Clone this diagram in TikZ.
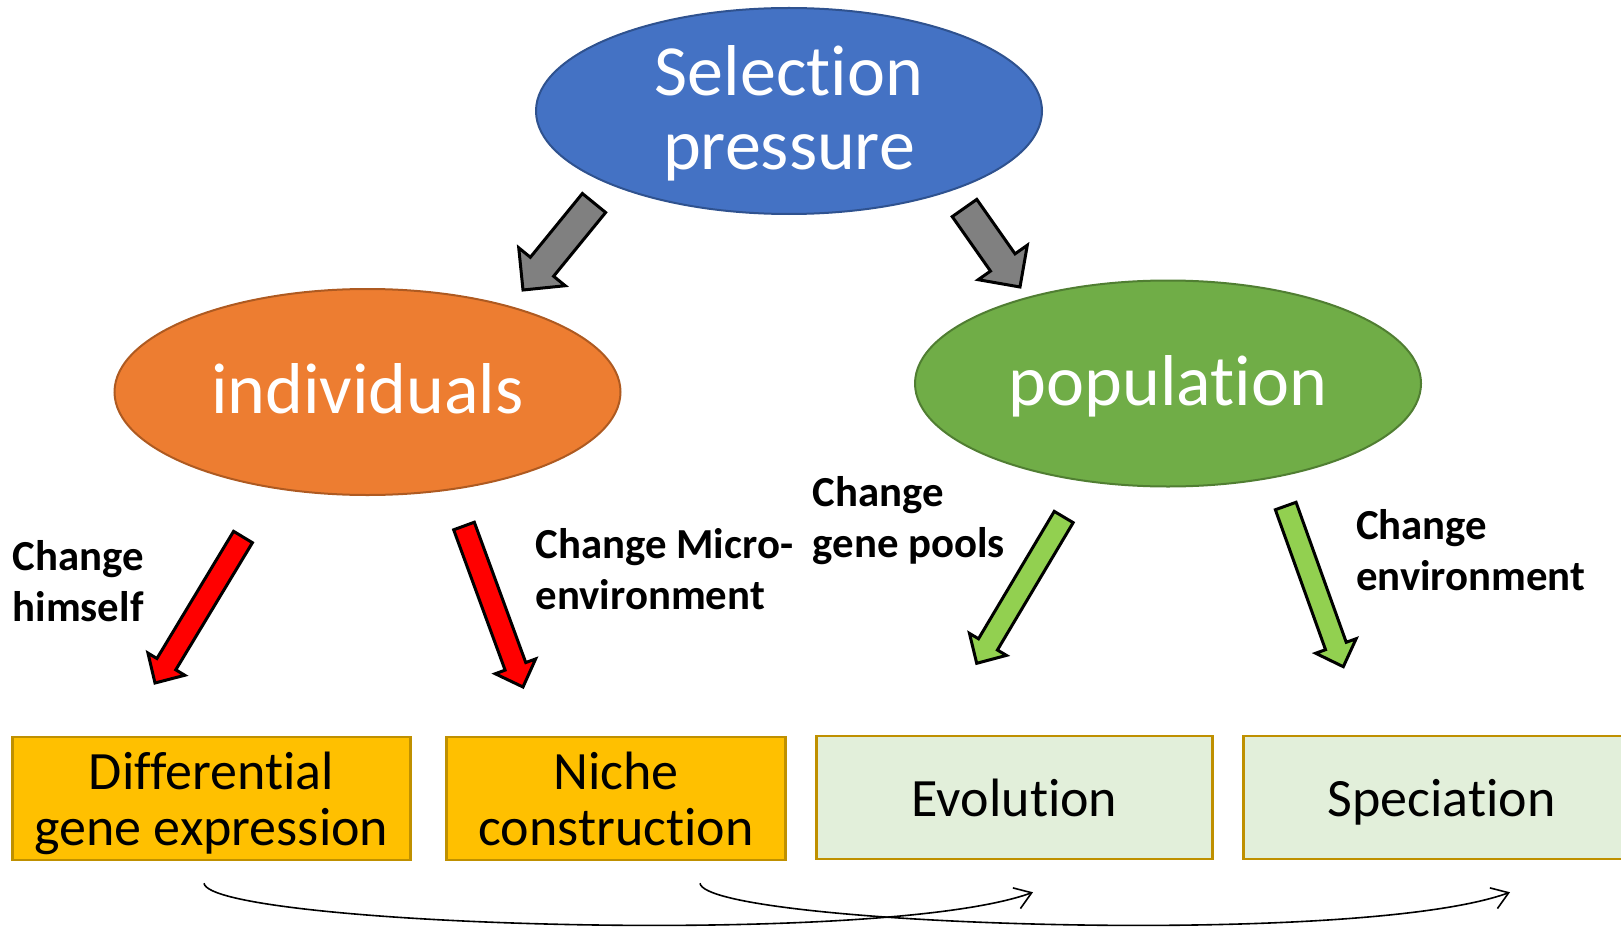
\documentclass[tikz,border=0pt]{standalone}
\usepackage{fontspec}
\setmainfont{Carlito}[Ligatures=NoCommon]
\usetikzlibrary{shapes.geometric,calc,arrows.meta}

\definecolor{selblue}{HTML}{4472C4}
\definecolor{selblueline}{HTML}{2F528F}
\definecolor{indorange}{HTML}{ED7D31}
\definecolor{indorangeline}{HTML}{AE5A21}
\definecolor{popgreen}{HTML}{70AD47}
\definecolor{popgreenline}{HTML}{507E32}
\definecolor{boxgold}{HTML}{FFC000}
\definecolor{boxgoldline}{HTML}{BF9000}
\definecolor{boxmint}{HTML}{E2EFDA}
\definecolor{arrowgray}{HTML}{808080}
\definecolor{arrowred}{HTML}{FF0000}
\definecolor{arrowlime}{HTML}{92D050}

% fixed line boxes so every line sits at the same height in its shape
\newcommand\ellstrut{\rule[-0.25em]{0pt}{1.10em}}
\newcommand\boxstrut{\rule[-0.25em]{0pt}{1.22em}}
% keep the baseline distance even when the struts are tall
\newcommand\tightlines{\lineskiplimit=-1000pt\relax\lineskip=0pt\relax}

% block arrow: #1 style, #2 tail centre, #3 tip, #4 half shaft width,
% #5 half head width, #6 head length
\newcommand\blockarrow[6]{%
  \coordinate (ba-t) at #2;
  \coordinate (ba-p) at #3;
  \coordinate (ba-b) at ($(ba-p)!#6!(ba-t)$);
  \draw[#1] ($(ba-t)!#4!90:(ba-p)$) -- ($(ba-b)!#4!-90:(ba-t)$)
    -- ($(ba-b)!#5!-90:(ba-t)$) -- (ba-p) -- ($(ba-b)!#5!90:(ba-t)$)
    -- ($(ba-b)!#4!90:(ba-t)$) -- ($(ba-t)!#4!-90:(ba-p)$) -- cycle;
}

\tikzset{
  blob/.style={ellipse, minimum width=506pt, minimum height=206pt,
    inner xsep=0pt, inner ysep=-40pt, line width=2pt, text=white,
    align=center,
    font={\fontsize{72}{73.5}\selectfont\tightlines}},
  outcome/.style={rectangle, line width=2.5pt, draw=boxgoldline,
    minimum height=123pt, inner sep=0pt, align=center,
    font={\fontsize{54}{56}\selectfont\tightlines}},
  tag/.style={anchor=west, inner sep=0pt, align=left,
    font=\bfseries\fontsize{42.8}{51}\selectfont},
  fatarrow/.style={line width=3pt, draw=black, line join=miter},
  link/.style={line width=1.6pt,
    -{Straight Barb[length=16pt,width=22pt,line width=1.6pt]}},
}

\begin{document}
\begin{tikzpicture}[x=1pt,y=-1pt]
\useasboundingbox (0,0) rectangle (1621,928);
\clip (0,0) rectangle (1621,928);

% top level and the two branches
\node[blob, fill=selblue, draw=selblueline] (sel) at (789,111)
  {\ellstrut Selection\\\ellstrut pressure};
\node[blob, fill=indorange, draw=indorangeline] (ind) at (367.5,392)
  {\ellstrut individuals};
\node[blob, fill=popgreen, draw=popgreenline] (pop) at (1168,383.5)
  {\ellstrut population};

% outcome boxes
\node[outcome, fill=boxgold, minimum width=398pt] (diff) at (211.4,798.5)
  {\boxstrut Differential\\\boxstrut gene expression};
\node[outcome, fill=boxgold, minimum width=339pt] (niche) at (616,798.5)
  {\boxstrut Niche\\\boxstrut construction};
\node[outcome, fill=boxmint, minimum width=396pt] (evo) at (1014.6,797.5)
  {\boxstrut Evolution};
\node[outcome, fill=boxmint, minimum width=396pt] (spec) at (1441.7,797.5)
  {\boxstrut Speciation};

% labels beside the lower arrows
\node[tag] (himself) at (12.4,581.5) {Change\\himself};
\node[tag] (micro) at (535.5,569) {Change Micro-\\environment};
\node[tag] (pools) at (812.6,521) {Change\\gene pools};
\node[tag] (envir) at (1356,550.5) {Change\\environment};

% fat arrows
\blockarrow{fatarrow, fill=arrowgray}{(594,203)}{(523,290)}{15pt}{30pt}{30pt}
\blockarrow{fatarrow, fill=arrowgray}{(964.5,208)}{(1020,287)}{15pt}{30pt}{30pt}
\blockarrow{fatarrow, fill=arrowred}{(243,537)}{(155,683)}{11pt}{21.5pt}{22pt}
\blockarrow{fatarrow, fill=arrowred}{(464,526)}{(523,687)}{11pt}{21.5pt}{22pt}
\blockarrow{fatarrow, fill=arrowlime}{(1063.7,517)}{(976.7,663.3)}{11pt}{21.5pt}{22pt}
\blockarrow{fatarrow, fill=arrowlime}{(1285.7,506)}{(1343.3,666.7)}{11pt}{21.5pt}{22pt}

% curved links under the boxes
\coordinate (l1s) at ($(diff.south)+(-7.4,22)$);
\coordinate (l1e) at ($(evo.south)+(18.4,32)$);
\coordinate (l2s) at ($(niche.south)+(84,22)$);
\coordinate (l2e) at ($(spec.south)+(68.3,32)$);
\draw[link] (l1s) .. controls (210,925) and (880,948) .. (l1e);
\draw[link] (l2s) .. controls (706,925) and (1357,948) .. (l2e);
\end{tikzpicture}
\end{document}
